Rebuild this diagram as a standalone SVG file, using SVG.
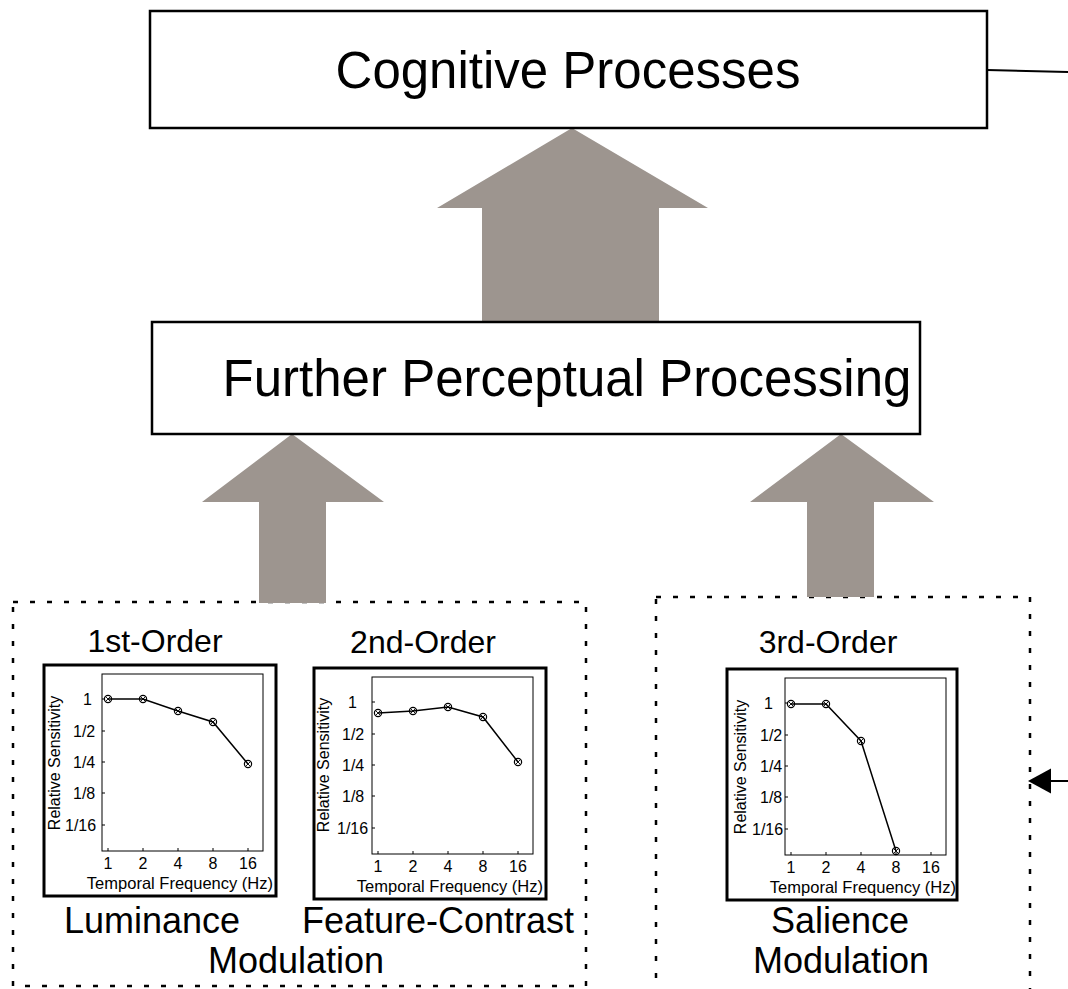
<svg xmlns="http://www.w3.org/2000/svg" xmlns:xlink="http://www.w3.org/1999/xlink" width="1068" height="989" viewBox="0 0 1068 989">
<style>
text{font-family:"Liberation Sans",Arial,sans-serif;fill:#000}
.box{fill:#fff;stroke:#000;stroke-width:2.5}
.big{font-size:51px;text-anchor:middle}
.lbl{font-size:36px;text-anchor:middle}
.ord{font-size:32px;text-anchor:middle}
.dot{fill:none;stroke:#000;stroke-width:2.5;stroke-dasharray:5 12}
.frame{fill:#fff;stroke:#000;stroke-width:3}
.axes{fill:none;stroke:#000;stroke-width:1}
.tk{stroke:#000;stroke-width:1}
.sm{font-size:16px}
.smc{font-size:16px;text-anchor:middle}
.sme{font-size:16.5px;text-anchor:end}
.curve{fill:none;stroke:#000;stroke-width:1.5}
.arrow{fill:#9d958f;stroke:none}
.conn{stroke:#000;stroke-width:2;fill:none}
</style>
<defs>
<g id="pt"><circle r="3.6" fill="none" stroke="#000" stroke-width="1.2"/><path d="M-2.4,-2.4L2.4,2.4M-2.4,2.4L2.4,-2.4" stroke="#000" stroke-width="0.9"/></g>
<g id="axesT">
<rect class="axes" x="58" y="9" width="161" height="177"/>
<path class="tk" d="M58,34h3M58,66h3M58,97h3M58,128h3M58,160h3M64,186v-3M99,186v-3M134,186v-3M169,186v-3M204,186v-3"/>
<text class="smc" x="64" y="204">1</text>
<text class="smc" x="99" y="204">2</text>
<text class="smc" x="134" y="204">4</text>
<text class="smc" x="169" y="204">8</text>
<text class="smc" x="204" y="204">16</text>
<text class="sme" x="229" y="224">Temporal Frequency (Hz)</text>
</g>
</defs>

<g id="group-first-second">
<rect class="dot" x="13" y="602" width="573" height="384"/>
</g>
<g id="group-third">
<rect class="dot" x="656" y="597" width="374" height="420"/>
</g>

<g id="connectors">
<polygon class="arrow" points="572,128 708,208 659,208 659,322 482,322 482,208 437,208"/>
<polygon class="arrow" points="292,434 384,502 326,502 326,603 259,603 259,502 202,502"/>
<polygon class="arrow" points="841,434 934,502 874,502 874,597 807,597 807,502 750,502"/>
<line class="conn" x1="987" y1="70" x2="1068" y2="72"/>
<line class="conn" x1="1048" y1="781" x2="1068" y2="781" stroke-width="2.5"/>
<polygon points="1028,781 1051,768.5 1051,793.5" fill="#000"/>
</g>

<g id="cognitive">
<rect class="box" x="150" y="11" width="837" height="117"/>
<text class="big" x="568" y="88">Cognitive Processes</text>
</g>

<g id="further">
<rect class="box" x="152" y="322" width="768" height="112"/>
<text class="big" x="567" y="396">Further Perceptual Processing</text>
</g>

<g id="first-order">
<text class="ord" x="155" y="652">1st-Order</text>
<g transform="translate(44,665)">
<rect class="frame" x="0" y="0" width="232" height="231"/>
<use xlink:href="#axesT"/>
<text class="sm" transform="translate(16,98) rotate(-90)" text-anchor="middle">Relative Sensitivity</text>
<text class="sm" x="39" y="39.5">1</text>
<text class="sm" x="29" y="71.5">1/2</text>
<text class="sm" x="29" y="102.5">1/4</text>
<text class="sm" x="29" y="133.5">1/8</text>
<text class="sm" x="21" y="165.5">1/16</text>
<polyline class="curve" points="64,34 99,34 134,46 169,57 204,99"/>
<use xlink:href="#pt" x="64" y="34"/><use xlink:href="#pt" x="99" y="34"/><use xlink:href="#pt" x="134" y="46"/><use xlink:href="#pt" x="169" y="57"/><use xlink:href="#pt" x="204" y="99"/>
</g>
<text class="lbl" x="152" y="933">Luminance</text>
</g>

<g id="second-order">
<text class="ord" x="423" y="653">2nd-Order</text>
<g transform="translate(314,668)">
<rect class="frame" x="0" y="0" width="232" height="231"/>
<use xlink:href="#axesT"/>
<text class="sm" transform="translate(15,97) rotate(-90)" text-anchor="middle">Relative Sensitivity</text>
<text class="sm" x="34" y="39.5">1</text>
<text class="sm" x="28" y="71.5">1/2</text>
<text class="sm" x="28" y="102.5">1/4</text>
<text class="sm" x="28" y="133.5">1/8</text>
<text class="sm" x="23" y="165.5">1/16</text>
<polyline class="curve" points="64,45 99,43 134,39 169,49 204,94"/>
<use xlink:href="#pt" x="64" y="45"/><use xlink:href="#pt" x="99" y="43"/><use xlink:href="#pt" x="134" y="39"/><use xlink:href="#pt" x="169" y="49"/><use xlink:href="#pt" x="204" y="94"/>
</g>
<text class="lbl" x="438" y="933">Feature-Contrast</text>
</g>

<text class="lbl" x="296" y="973">Modulation</text>

<g id="third-order">
<text class="ord" x="828" y="653">3rd-Order</text>
<g transform="translate(727,669)">
<rect class="frame" x="0" y="0" width="230" height="231"/>
<use xlink:href="#axesT"/>
<text class="sm" transform="translate(19,98) rotate(-90)" text-anchor="middle">Relative Sensitivity</text>
<text class="sm" x="37" y="39.5">1</text>
<text class="sm" x="33" y="71.5">1/2</text>
<text class="sm" x="33" y="102.5">1/4</text>
<text class="sm" x="33" y="133.5">1/8</text>
<text class="sm" x="25" y="165.5">1/16</text>
<polyline class="curve" points="64,35 99,35 134,72 169,182"/>
<use xlink:href="#pt" x="64" y="35"/><use xlink:href="#pt" x="99" y="35"/><use xlink:href="#pt" x="134" y="72"/><use xlink:href="#pt" x="169" y="182"/>
</g>
<text class="lbl" x="840" y="933">Salience</text>
<text class="lbl" x="841" y="973">Modulation</text>
</g>
</svg>
